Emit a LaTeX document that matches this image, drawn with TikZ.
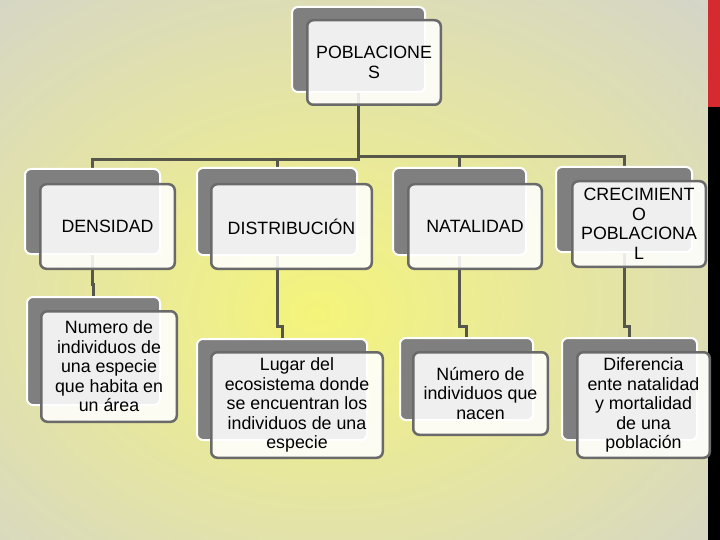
\documentclass[tikz,border=0pt]{standalone}
\usepackage{fontspec}
\setmainfont{Liberation Sans}
\definecolor{bgY}{HTML}{F4F47A}
\definecolor{bgA}{HTML}{EEEE8E}
\definecolor{bgM}{HTML}{E2E2AA}
\definecolor{bgG}{HTML}{D4D4CA}
\definecolor{backgray}{HTML}{7F7F7F}
\definecolor{frontedge}{HTML}{6A6A6A}
\definecolor{linecol}{HTML}{56564A}
\definecolor{stripred}{HTML}{D52B30}
\pgfdeclareradialshading{bgshade}{\pgfpoint{-3bp}{-4bp}}{color(0bp)=(bgY); color(8bp)=(bgA); color(22bp)=(bgM); color(38bp)=(bgG); color(80bp)=(bgG)}
\tikzset{
  back/.style={rectangle, rounded corners=6pt, draw=white, line width=2pt, fill=backgray, inner sep=0pt},
  front/.style={rectangle, rounded corners=6pt, draw=frontedge, line width=2.5pt, fill=white, fill opacity=0.88, text opacity=1, inner sep=0pt, align=center, font=\fontsize{17.8}{19.5}\selectfont},
  link/.style={draw=linecol, line width=3pt}
}
\begin{document}
\begin{tikzpicture}[x=1pt,y=-1pt]
\useasboundingbox (0,0) rectangle (720,540);
\shade[shading=bgshade] (0,0) rectangle (720,540);
\fill[stripred] (708,0) rectangle (720,107);
\fill[black] (708,107) rectangle (720,540);

% coordinates for the connector bars
\coordinate (barL) at (0,160);
\coordinate (barR) at (0,157);
\coordinate (j1) at (0,284);
\coordinate (j2) at (0,326);

% back boxes
\node[back, minimum width=131pt, minimum height=83pt] (pb) at (358.5,49.5) {};
\node[back, minimum width=133pt, minimum height=83pt] (b1) at (92.5,211.5) {};
\node[back, minimum width=158pt, minimum height=85pt] (b2) at (277,211.5) {};
\node[back, minimum width=131pt, minimum height=85pt] (b3) at (459.5,211.5) {};
\node[back, minimum width=134pt, minimum height=83pt] (b4) at (624,209.5) {};
\node[back, minimum width=131pt, minimum height=106pt] (c1) at (93.5,351) {};
\node[back, minimum width=168pt, minimum height=99pt] (c2) at (282,389.5) {};
\node[back, minimum width=131pt, minimum height=80pt] (c3) at (466.5,379) {};
\node[back, minimum width=133pt, minimum height=100pt] (c4) at (629.5,389) {};

% connectors
\draw[link] (pb.center) -- (pb.center |- barL) -| (b1.center);
\draw[link] (pb.center |- barR) -| (b4.center);
\draw[link] (b2.center |- barL) -- (b2.center);
\draw[link] (b3.center |- barR) -- (b3.center);
\draw[link] (b1.center) -- (b1.center |- j1) -| (c1.center);
\draw[link] (b2.center) -- (b2.center |- j2) -| (c2.center);
\draw[link] (b3.center) -- (b3.center |- j2) -| (c3.center);
\draw[link] (b4.center) -- (b4.center |- j2) -| (c4.center);

% redraw back boxes over the connectors
\foreach \n in {pb,b1,b2,b3,b4,c1,c2,c3,c4}{
  \fill[backgray, rounded corners=6pt] (\n.north west) rectangle (\n.south east);
  \draw[white, line width=2pt, rounded corners=6pt] (\n.north west) rectangle (\n.south east);
}

% front boxes with text
\node[front, minimum width=133.5pt, minimum height=84.5pt] (pf) at (374,62.5) {POBLACIONE\\S};
\node[front, minimum width=134.5pt, minimum height=84.5pt] (f1) at (107.5,226.5) {DENSIDAD};
\node[front, minimum width=160.5pt, minimum height=84.5pt] (f2) at (291.5,226.5) {DISTRIBUCIÓN};
\node[front, minimum width=133.5pt, minimum height=84.5pt] (f3) at (475,226.5) {NATALIDAD};
\node[front, minimum width=133.5pt, minimum height=85.5pt] (f4) at (639,224) {CRECIMIENT\\O\\POBLACIONA\\L};
\node[front, minimum width=135.5pt, minimum height=110.5pt] (g1) at (109,366.5) {Numero de\\individuos de\\una especie\\que habita en\\un área};
\node[front, minimum width=171.5pt, minimum height=105.5pt] (g2) at (297,405) {Lugar del\\ecosistema donde\\se encuentran los\\individuos de una\\especie};
\node[front, minimum width=134.5pt, minimum height=82.5pt] (g3) at (480.5,393.5) {Número de\\individuos que\\nacen};
\node[front, minimum width=132.5pt, minimum height=105.5pt] (g4) at (643.5,405) {Diferencia\\ente natalidad\\y mortalidad\\de una\\población};
\end{tikzpicture}
\end{document}
